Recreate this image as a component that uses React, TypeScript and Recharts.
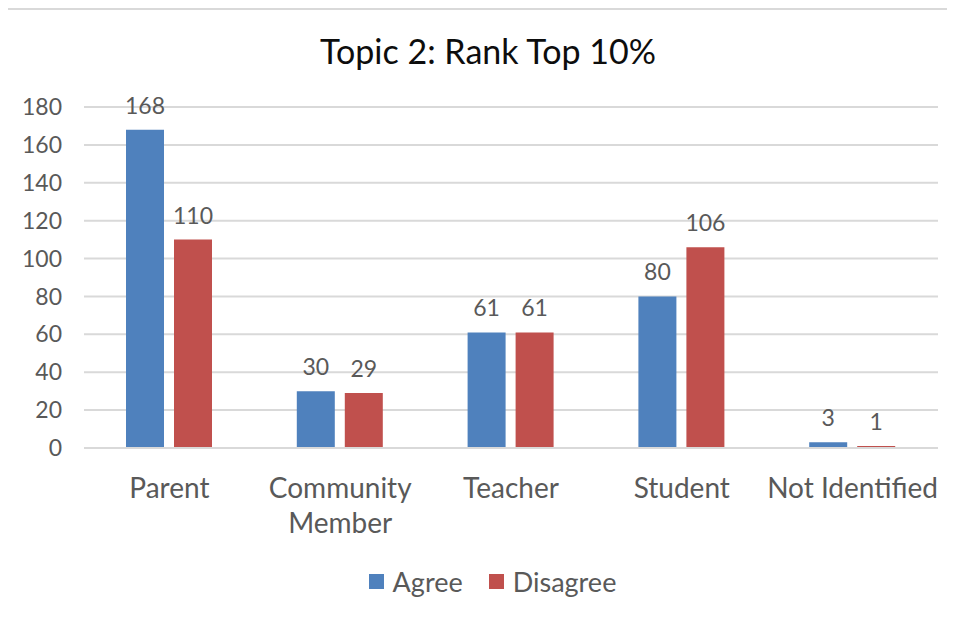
import React from "react";
import { BarChart, Bar, XAxis, YAxis, CartesianGrid, Legend, LabelList } from "recharts";

const categories = ["Parent", "Community Member", "Teacher", "Student", "Not Identified"];
const agree = [168, 30, 61, 80, 3];
const disagree = [110, 29, 61, 106, 1];
const yTicks = [0, 20, 40, 60, 80, 100, 120, 140, 160, 180];
const seriesNames = ["Agree", "Disagree"];
const colors = ["#4F81BD", "#C0504D"];

const data = categories.map((c, i) => ({ name: c, agree: agree[i], disagree: disagree[i] }));

const FONT = "Lato, 'Open Sans', sans-serif";
const GRAY = "#595959";

const CategoryTick = (props: any) => {
  const { x, y, payload } = props;
  const label: string = payload.value;
  const words = label.split(" ");
  const lines = label.length > 14 ? words : [label];
  return (
    <g>
      {lines.map((ln, i) => (
        <text
          key={i}
          x={x}
          y={y + 48 + i * 35}
          textAnchor="middle"
          fill={GRAY}
          fontSize={28}
          fontFamily={FONT}
        >
          {ln}
        </text>
      ))}
    </g>
  );
};

const LegendContent = () => (
  <div style={{ display: "flex", justifyContent: "center", alignItems: "center", fontFamily: FONT, fontSize: 27, color: GRAY, lineHeight: 1, paddingLeft: 30 }}>
    {seriesNames.map((n, i) => (
      <div key={n} style={{ display: "flex", alignItems: "center", marginLeft: i === 0 ? 0 : 26 }}>
        <span style={{ display: "inline-block", width: 15, height: 15, background: colors[i], marginRight: 9 }} />
        <span>{n}</span>
      </div>
    ))}
  </div>
);

export default function App() {
  return (
    <div style={{ position: "relative", margin: -8, width: 955, height: 619, background: "#fff", overflow: "hidden" }}>
      <svg width={955} height={619} style={{ position: "absolute", left: 0, top: 0 }}>
        <rect x={6} y={8} width={960} height={2} fill="#d9d9d9" />
        <rect x={6} y={8} width={2} height={620} fill="#d9d9d9" />
        <text x={488} y={64} textAnchor="middle" fontFamily={FONT} fontSize={34} fill="#0d0d0d">
          Topic 2: Rank Top 10%
        </text>
      </svg>
      <div style={{ position: "absolute", left: 0, top: 0 }}>
        <BarChart
          width={955}
          height={619}
          data={data}
          margin={{ top: 107, right: 17, left: 24, bottom: 71 }}
          barSize={38}
          barGap={10}
        >
          <CartesianGrid vertical={false} stroke="#d9d9d9" strokeWidth={2} />
          <XAxis
            dataKey="name"
            height={100}
            tickSize={0}
            tickLine={false}
            axisLine={{ stroke: "#d9d9d9", strokeWidth: 2 }}
            tick={<CategoryTick />}
            interval={0}
          />
          <YAxis
            width={60}
            domain={[0, 180]}
            ticks={yTicks}
            interval={0}
            axisLine={false}
            tickLine={false}
            tickSize={0}
            tickMargin={22}
            tick={{ fill: GRAY, fontSize: 23, fontFamily: FONT }}
          />
          <Legend
            layout="horizontal"
            verticalAlign="middle"
            align="center"
            wrapperStyle={{ top: 568, left: 0, width: 955 }}
            content={<LegendContent />}
          />
          <Bar dataKey="agree" name={seriesNames[0]} fill={colors[0]} isAnimationActive={false}>
            <LabelList dataKey="agree" position="top" offset={16} fill={GRAY} fontSize={23} fontFamily={FONT} />
          </Bar>
          <Bar dataKey="disagree" name={seriesNames[1]} fill={colors[1]} isAnimationActive={false}>
            <LabelList dataKey="disagree" position="top" offset={16} fill={GRAY} fontSize={23} fontFamily={FONT} />
          </Bar>
        </BarChart>
      </div>
    </div>
  );
}
